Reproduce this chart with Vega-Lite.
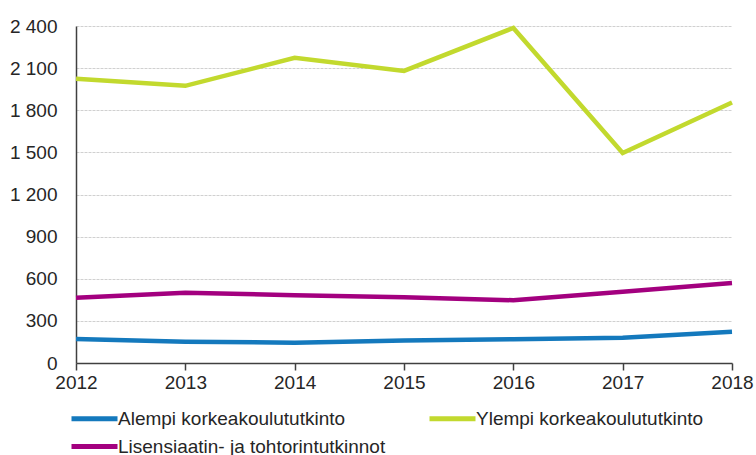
{
  "$schema": "https://vega.github.io/schema/vega-lite/v6.json",
  "width": 656,
  "height": 337,
  "autosize": {"type": "none"},
  "padding": {"left": 76, "top": 26, "right": 24, "bottom": 92},
  "background": "white",
  "config": {
    "view": {"stroke": null},
    "font": "Liberation Sans",
    "axis": {"labelFont": "Liberation Sans", "labelFontSize": 19, "labelColor": "#262626"},
    "legend": {"labelFont": "Liberation Sans", "labelFontSize": 19, "labelColor": "#262626"}
  },
  "data": {
    "values": [
      {"year": 2012, "series": "Alempi korkeakoulututkinto", "value": 171},
      {"year": 2013, "series": "Alempi korkeakoulututkinto", "value": 152},
      {"year": 2014, "series": "Alempi korkeakoulututkinto", "value": 145},
      {"year": 2015, "series": "Alempi korkeakoulututkinto", "value": 160},
      {"year": 2016, "series": "Alempi korkeakoulututkinto", "value": 170},
      {"year": 2017, "series": "Alempi korkeakoulututkinto", "value": 180},
      {"year": 2018, "series": "Alempi korkeakoulututkinto", "value": 222},
      {"year": 2012, "series": "Ylempi korkeakoulututkinto", "value": 2024},
      {"year": 2013, "series": "Ylempi korkeakoulututkinto", "value": 1974},
      {"year": 2014, "series": "Ylempi korkeakoulututkinto", "value": 2173},
      {"year": 2015, "series": "Ylempi korkeakoulututkinto", "value": 2080},
      {"year": 2016, "series": "Ylempi korkeakoulututkinto", "value": 2386},
      {"year": 2017, "series": "Ylempi korkeakoulututkinto", "value": 1496},
      {"year": 2018, "series": "Ylempi korkeakoulututkinto", "value": 1855},
      {"year": 2012, "series": "Lisensiaatin- ja tohtorintutkinnot", "value": 465},
      {"year": 2013, "series": "Lisensiaatin- ja tohtorintutkinnot", "value": 500},
      {"year": 2014, "series": "Lisensiaatin- ja tohtorintutkinnot", "value": 483},
      {"year": 2015, "series": "Lisensiaatin- ja tohtorintutkinnot", "value": 469},
      {"year": 2016, "series": "Lisensiaatin- ja tohtorintutkinnot", "value": 447},
      {"year": 2017, "series": "Lisensiaatin- ja tohtorintutkinnot", "value": 508},
      {"year": 2018, "series": "Lisensiaatin- ja tohtorintutkinnot", "value": 570}
    ]
  },
  "mark": {"type": "line", "strokeWidth": 4.5, "strokeCap": "butt", "strokeJoin": "miter"},
  "encoding": {
    "x": {
      "field": "year",
      "type": "quantitative",
      "scale": {"domain": [2012, 2018], "nice": false, "zero": false},
      "axis": {
        "title": null,
        "values": [2012, 2013, 2014, 2015, 2016, 2017, 2018],
        "format": "d",
        "grid": false,
        "domainColor": "#404040",
        "domainWidth": 1.5,
        "tickColor": "#404040",
        "tickWidth": 1.5,
        "tickSize": 7,
        "labelPadding": 3,
        "labelFlush": false
      }
    },
    "y": {
      "field": "value",
      "type": "quantitative",
      "scale": {"domain": [0, 2400], "nice": false},
      "axis": {
        "title": null,
        "values": [0, 300, 600, 900, 1200, 1500, 1800, 2100, 2400],
        "labelExpr": "replace(format(datum.value, ','), ',', ' ')",
        "ticks": false,
        "labelPadding": 19,
        "domainColor": "#404040",
        "domainWidth": 1.5,
        "gridColor": "#d0d0d0",
        "gridWidth": 1,
        "gridDash": [3, 1]
      }
    },
    "color": {
      "field": "series",
      "type": "nominal",
      "scale": {
        "domain": ["Alempi korkeakoulututkinto", "Ylempi korkeakoulututkinto", "Lisensiaatin- ja tohtorintutkinnot"],
        "range": ["#1479bd", "#c2d92e", "#a3007f"]
      },
      "legend": {
        "title": null,
        "orient": "none",
        "legendX": -9,
        "legendY": 383,
        "direction": "horizontal",
        "columns": 2,
        "columnPadding": 33,
        "rowPadding": 7,
        "padding": 0,
        "symbolType": "M-1,0H8.2",
        "symbolSize": 100,
        "symbolStrokeWidth": 5,
        "symbolFillColor": "transparent",
        "labelOffset": 32,
        "labelLimit": 400
      }
    }
  }
}
